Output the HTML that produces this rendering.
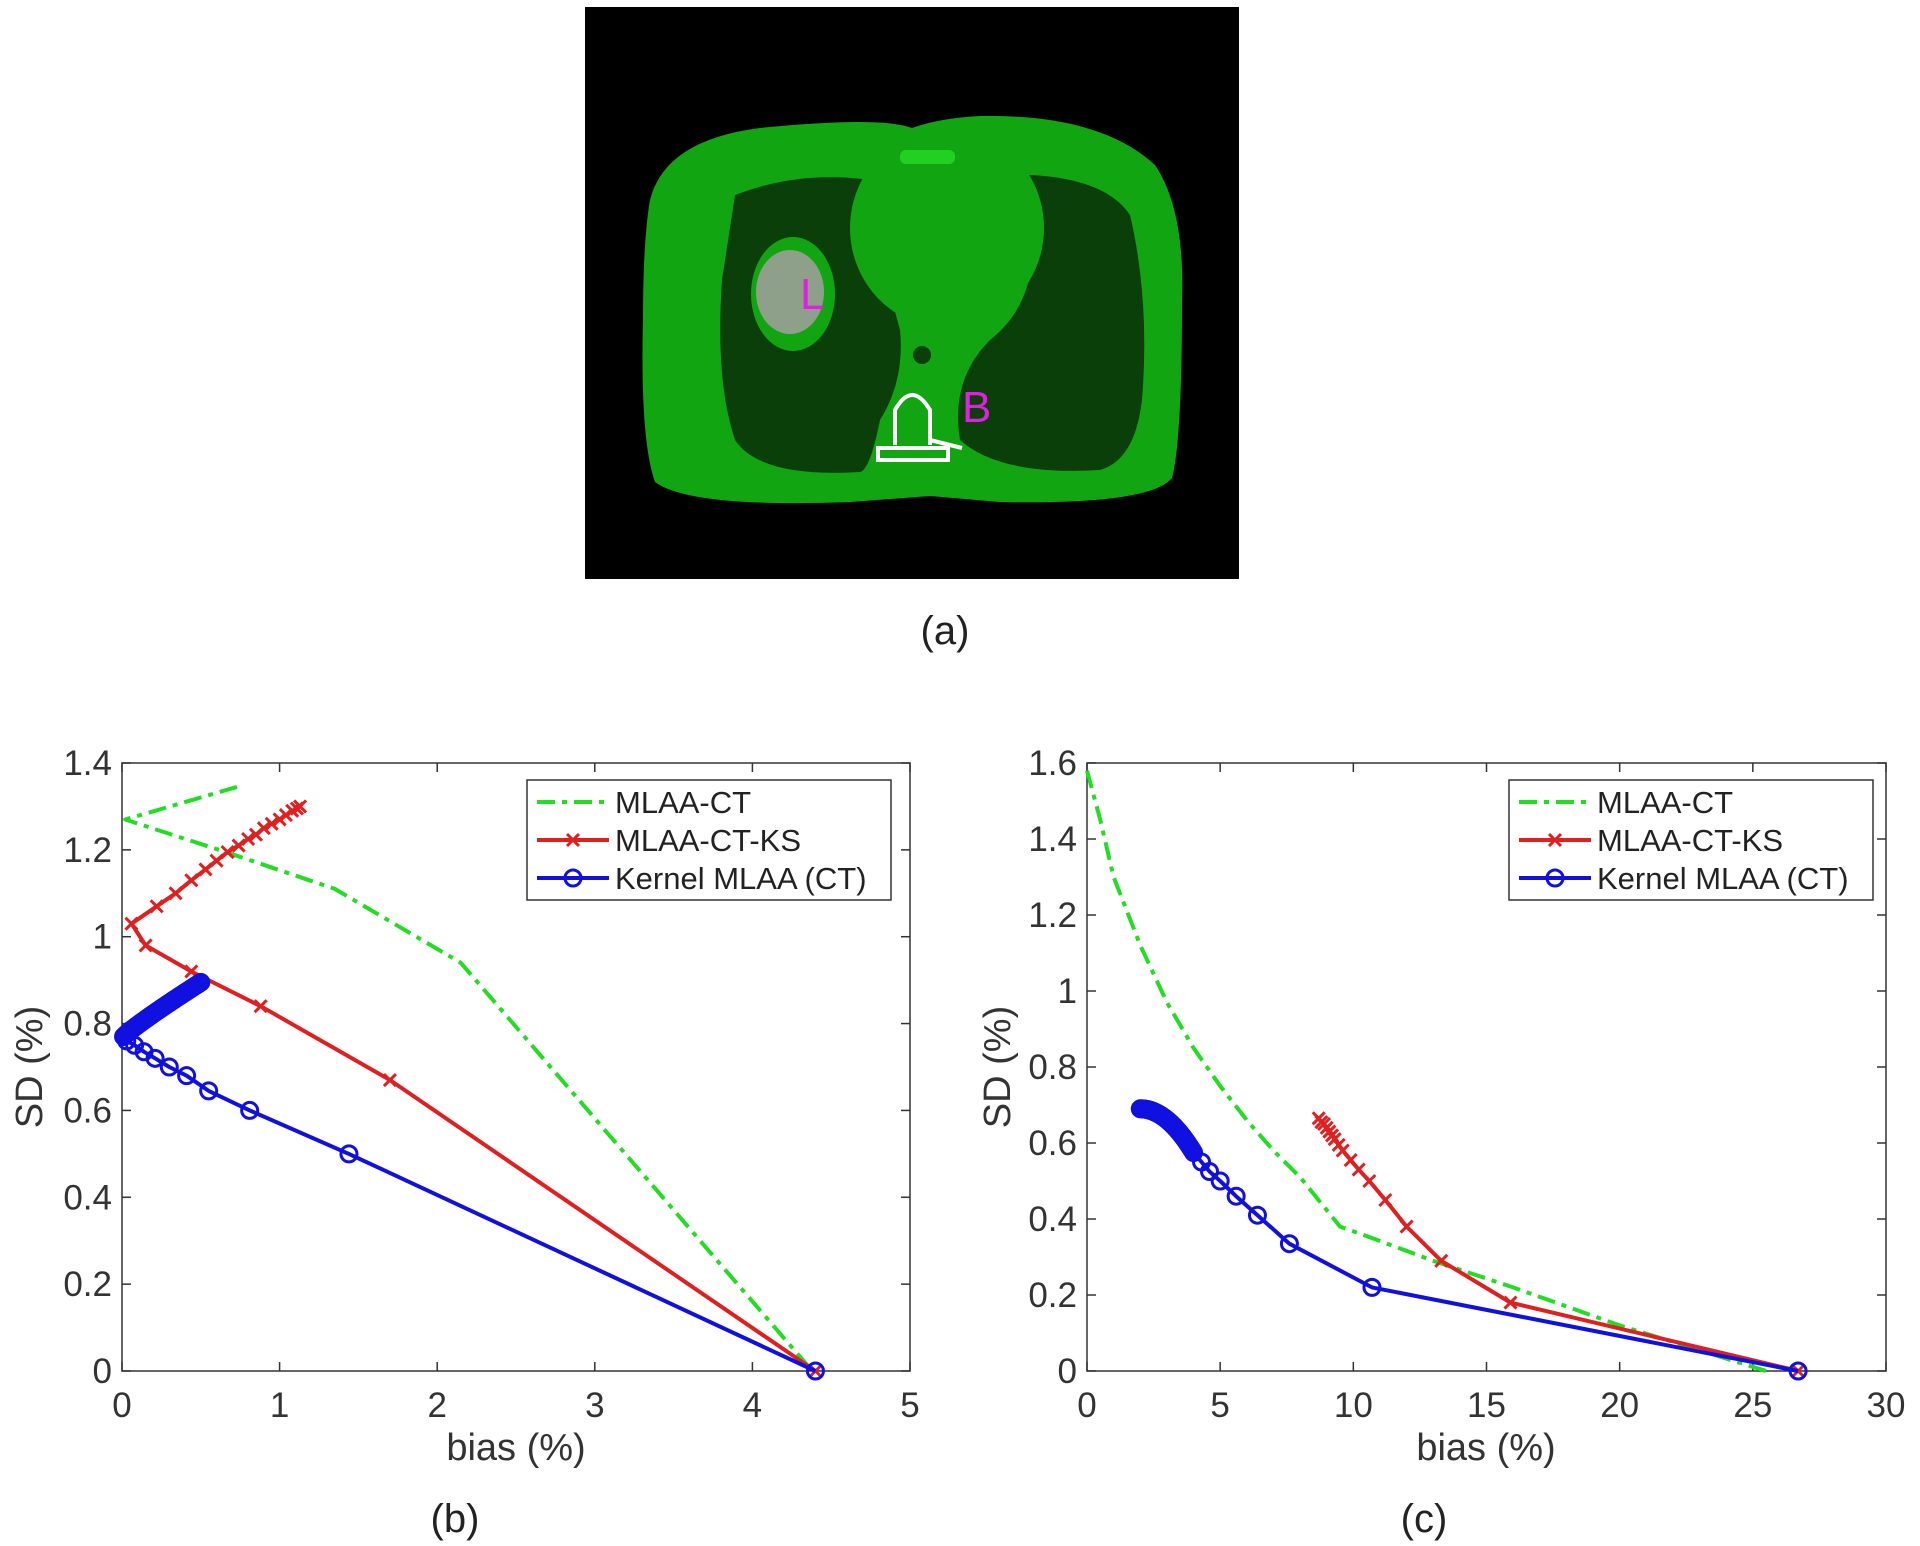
<!DOCTYPE html>
<html><head><meta charset="utf-8"><style>
html,body{margin:0;padding:0;background:#fff;}
svg{display:block;font-family:"Liberation Sans",sans-serif;}
</style></head><body>
<svg id="s" width="1920" height="1546" viewBox="0 0 1920 1546" xmlns="http://www.w3.org/2000/svg">
<rect width="1920" height="1546" fill="#fff"/>
<rect x="585" y="7" width="654" height="572" fill="#000"/>
<path d="M650,200 Q665,140 760,128 Q880,116 912,128 Q940,118 980,116 Q1100,114 1155,165 Q1185,210 1182,300 Q1182,440 1172,478 Q1150,505 1000,502 L930,496 L850,502 Q690,508 655,482 Q640,440 643,320 Q643,240 650,200 Z" fill="#12a512"/>
<path d="M735,195 Q800,170 870,180 Q880,260 900,330 Q905,380 880,420 Q870,470 860,472 Q760,478 735,440 Q715,380 722,280 Z" fill="#0a3f0a"/>
<path d="M990,175 Q1100,170 1130,215 Q1150,300 1142,400 Q1135,460 1100,470 Q1000,476 960,440 Q950,380 990,340 Q1040,300 1030,230 Z" fill="#0a3f0a"/>
<ellipse cx="947" cy="228" rx="97" ry="100" fill="#12a512"/>
<ellipse cx="793" cy="294" rx="42" ry="57" fill="#12a512"/>
<ellipse cx="790" cy="292" rx="34" ry="42" fill="#8fa08a"/>
<rect x="900" y="150" width="55" height="14" rx="6" fill="#22d022"/>
<circle cx="922" cy="355" r="9" fill="#0a3f0a"/>
<g stroke="#fff" stroke-width="4" fill="none">
<path d="M895,445 L895,410 Q912,380 930,410 L930,445"/>
<path d="M878,460 L948,460 L948,448 L878,448 Z"/>
<path d="M930,440 L962,448"/>
</g>
<text x="800" y="309" font-size="44" fill="#e020e0">L</text>
<text x="962" y="422" font-size="44" fill="#e020e0">B</text>
<text x="945" y="644" font-size="40" text-anchor="middle" fill="#222">(a)</text>

<g id="pb"></g>
<g id="pc"></g>
<text x="455" y="1532" font-size="40" text-anchor="middle" fill="#222">(b)</text>
<text x="1424" y="1532" font-size="40" text-anchor="middle" fill="#222">(c)</text>
<text x="516" y="1460" font-size="38" text-anchor="middle" fill="#333">bias (%)</text>
<text x="1486" y="1460" font-size="38" text-anchor="middle" fill="#333">bias (%)</text>
<text transform="translate(42,1067) rotate(-90)" font-size="38" text-anchor="middle" fill="#333">SD (%)</text>
<text transform="translate(1010,1067) rotate(-90)" font-size="38" text-anchor="middle" fill="#333">SD (%)</text>
</svg>
<script>
var NS="http://www.w3.org/2000/svg";
function el(p,t,a,txt){var e=document.createElementNS(NS,t);for(var k in a)e.setAttribute(k,a[k]);if(txt!=null)e.textContent=txt;p.appendChild(e);return e;}
function plot(gid,X0,X1,Y0,Y1,xmax,ymax,xt,yt,series,lx,ly){
 var g=document.getElementById(gid);
 var fx=function(x){return X0+(X1-X0)*x/xmax;},fy=function(y){return Y0-(Y0-Y1)*y/ymax;};
 el(g,"rect",{x:X0,y:Y1,width:X1-X0,height:Y0-Y1,fill:"#fff",stroke:"#333","stroke-width":1.5});
 xt.forEach(function(v){var x=fx(v);el(g,"line",{x1:x,y1:Y0,x2:x,y2:Y0-9,stroke:"#333","stroke-width":1.5});el(g,"line",{x1:x,y1:Y1,x2:x,y2:Y1+9,stroke:"#333","stroke-width":1.5});el(g,"text",{x:x,y:Y0+46,"font-size":35,"text-anchor":"middle",fill:"#333"},String(v));});
 yt.forEach(function(v){var y=fy(v);el(g,"line",{x1:X0,y1:y,x2:X0+9,y2:y,stroke:"#333","stroke-width":1.5});el(g,"line",{x1:X1,y1:y,x2:X1-9,y2:y,stroke:"#333","stroke-width":1.5});el(g,"text",{x:X0-10,y:y+12,"font-size":35,"text-anchor":"end",fill:"#333"},String(v));});
 series.forEach(function(s){
  var pts=s.p.map(function(q){return fx(q[0]).toFixed(1)+","+fy(q[1]).toFixed(1);}).join(" ");
  var a={points:pts,fill:"none",stroke:s.c,"stroke-width":4,"stroke-linejoin":"round"};
  if(s.d)a["stroke-dasharray"]="18,7,5,7";
  el(g,"polyline",a);
  if(s.m){s.p.forEach(function(q){var x=fx(q[0]),y=fy(q[1]);
   if(s.m=="o")el(g,"circle",{cx:x,cy:y,r:8,fill:"none",stroke:s.c,"stroke-width":3});
   else{el(g,"path",{d:"M"+(x-6)+","+(y-6)+"L"+(x+6)+","+(y+6)+"M"+(x-6)+","+(y+6)+"L"+(x+6)+","+(y-6),stroke:s.c,"stroke-width":3});}
  });}
 });
 el(g,"rect",{x:lx,y:ly,width:364,height:120,fill:"#fff",stroke:"#333","stroke-width":1.5});
 var names=["MLAA-CT","MLAA-CT-KS","Kernel MLAA (CT)"],cols=["#22dd22","#e02020","#1010e0"];
 for(var i=0;i<3;i++){var y=ly+22+i*38;
  var a={x1:lx+10,y1:y,x2:lx+82,y2:y,stroke:cols[i],"stroke-width":4};if(i==0)a["stroke-dasharray"]="18,7,5,7";el(g,"line",a);
  if(i==1)el(g,"path",{d:"M"+(lx+40)+","+(y-6)+"l12,12m-12,0l12,-12",stroke:cols[i],"stroke-width":3});
  if(i==2)el(g,"circle",{cx:lx+46,cy:y,r:8,fill:"none",stroke:cols[i],"stroke-width":3});
  el(g,"text",{x:lx+88,y:y+11,"font-size":31,fill:"#222"},names[i]);}
}
var gb=[[0.73,1.345],[0.02,1.27],[0.7,1.19],[1.35,1.11],[2.15,0.94],[4.38,0.0]];
var rb=[[4.4,0],[1.7,0.67],[0.88,0.84],[0.44,0.92],[0.15,0.98],[0.06,1.03],[0.22,1.07],[0.34,1.10],[0.44,1.13],[0.53,1.155],[0.6,1.175],[0.67,1.195],[0.74,1.21],[0.8,1.225],[0.85,1.235],[0.9,1.25],[0.95,1.26],[1.0,1.27],[1.04,1.28],[1.08,1.29],[1.11,1.295],[1.13,1.30]];
var bb=[[4.4,0],[1.44,0.50],[0.81,0.60],[0.55,0.645],[0.41,0.68],[0.3,0.70],[0.21,0.72],[0.14,0.735],[0.08,0.75],[0.03,0.76],[0.01,0.77]];
for(var i=1;i<=35;i++){var t=i/35;bb.push([0.01+0.49*Math.pow(t,1.1),0.77+0.125*t]);}
plot("pb",122,910,1371,763,5,1.4,[0,1,2,3,4,5],[0,0.2,0.4,0.6,0.8,1,1.2,1.4],
 [{p:gb,c:"#22dd22",d:1},{p:rb,c:"#e02020",m:"x"},{p:bb,c:"#1010e0",m:"o"}],527,780);
var gc=[[0,1.58],[0.5,1.45],[1,1.3],[2,1.12],[3,0.97],[4,0.85],[5,0.75],[6,0.66],[7,0.58],[8,0.51],[9.5,0.38],[10.5,0.355],[13,0.29],[16,0.22],[20,0.12],[25.5,0.0]];
var rc=[[26.7,0],[15.9,0.18],[13.3,0.29],[12,0.38],[11.2,0.45],[10.6,0.50],[10.2,0.53],[9.9,0.555],[9.6,0.58],[9.45,0.595],[9.3,0.61],[9.2,0.62],[9.1,0.63],[9.0,0.64],[8.9,0.65],[8.8,0.655],[8.7,0.665]];
var bc=[[26.7,0],[10.7,0.22],[7.6,0.335],[6.4,0.41],[5.6,0.46],[5.0,0.50],[4.6,0.525],[4.3,0.55],[4.0,0.575]];
for(var i=1;i<=40;i++){var t=i/40;bc.push([4.0-2.0*t,0.575+0.115*(1-Math.pow(1-t,2))]);}
plot("pc",1087,1886,1371,763,30,1.6,[0,5,10,15,20,25,30],[0,0.2,0.4,0.6,0.8,1,1.2,1.4,1.6],
 [{p:gc,c:"#22dd22",d:1},{p:rc,c:"#e02020",m:"x"},{p:bc,c:"#1010e0",m:"o"}],1509,780);
</script>
</body></html>
